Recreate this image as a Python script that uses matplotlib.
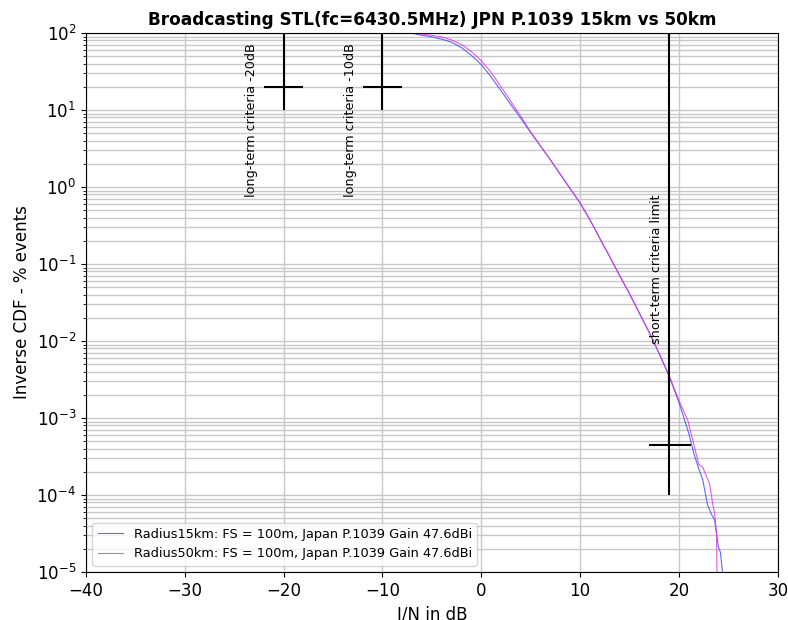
import numpy as np
import matplotlib
matplotlib.use("Agg")
import matplotlib.pyplot as plt

# I/N (dB) and inverse CDF (% events)
in_15km = [-12, -9, -7, -6, -5, -4, -3, -2, -1, 0, 1, 2, 3, 4, 5, 6, 7, 8, 9, 10,
           11, 12, 13, 14, 15, 16, 17, 18, 19, 20, 21, 21.5, 22, 22.4, 22.9, 23.3,
           23.6, 24.0, 24.2, 24.4]
cdf_15km = [100, 100, 99.5, 93.3, 89.1, 83.2, 75.9, 64.6, 51.3, 38.9, 26.9, 17.8,
            11.7, 7.8, 5.1, 3.4, 2.25, 1.46, 0.95, 0.62, 0.375, 0.215, 0.124, 0.071,
            0.041, 0.023, 0.0129, 0.0069, 0.0035, 0.0016, 0.00063, 0.00035, 0.00022,
            0.00016, 0.000074, 0.000056, 0.000048, 0.000021, 0.000018, 0.00001]

in_50km = [-12, -9, -7, -6, -5, -4, -3, -2, -1, 0, 1, 2, 3, 4, 5, 6, 7, 8, 9, 10,
           11, 12, 13, 14, 15, 16, 17, 18, 19, 20, 20.9, 21.7, 22.0, 22.4, 23.1,
           23.4, 23.6, 23.8, 23.85]
cdf_50km = [100, 100, 99.8, 96.6, 93.3, 89.1, 81.3, 70.8, 57.5, 43.7, 30.9, 20.0,
            12.9, 8.3, 5.2, 3.4, 2.25, 1.46, 0.95, 0.62, 0.375, 0.215, 0.124, 0.071,
            0.041, 0.023, 0.0129, 0.0069, 0.0036, 0.0017, 0.00093, 0.00036, 0.00025,
            0.00023, 0.00014, 0.000079, 0.000059, 0.000032, 0.00001]

labels = ["Radius15km: FS = 100m, Japan P.1039 Gain 47.6dBi",
          "Radius50km: FS = 100m, Japan P.1039 Gain 47.6dBi"]

# protection criteria (I/N dB, % time)
long_term = [(-20, 20, "long-term criteria -20dB"), (-10, 20, "long-term criteria -10dB")]
short_term = (19, 0.00045, "short-term criteria limit")

fig = plt.figure(figsize=(7.88, 6.2), dpi=100)
ax = fig.add_axes([0.109, 0.0774, 0.878, 0.8694])

ax.plot(in_15km, cdf_15km, color="#3344ff", lw=0.8, alpha=0.8, label=labels[0])
ax.plot(in_50km, cdf_50km, color="#dd33dd", lw=0.8, alpha=0.8, label=labels[1])

for x, y, txt in long_term:
    ax.vlines(x, 10, 100, color="black", lw=1.5)
    ax.hlines(y, x - 2, x + 2, color="black", lw=1.5)
    ax.text(x - 2.6, 0.75, txt, rotation=90, ha="right", va="bottom", fontsize=9.2)

x, y, txt = short_term
ax.vlines(x, 1e-4, 100, color="black", lw=1.5)
ax.hlines(y, x - 2, x + 2.2, color="black", lw=1.5)
ax.text(x - 0.6, 0.0092, txt, rotation=90, ha="right", va="bottom", fontsize=9.2)

ax.set_yscale("log")
ax.set_xlim(-40, 30)
ax.set_ylim(1e-5, 1e2)
ax.grid(True, which="both", color="#c8c8c8", lw=1)
ax.set_axisbelow(True)
ax.tick_params(labelsize=12)
ax.set_xlabel("I/N in dB", fontsize=12)
ax.set_ylabel("Inverse CDF - % events", fontsize=12)
ax.set_title("Broadcasting STL(fc=6430.5MHz) JPN P.1039 15km vs 50km",
             fontsize=12.2, fontweight="bold")
ax.legend(loc="lower left", fontsize=9.3)

fig.savefig("out.png", dpi=100)
